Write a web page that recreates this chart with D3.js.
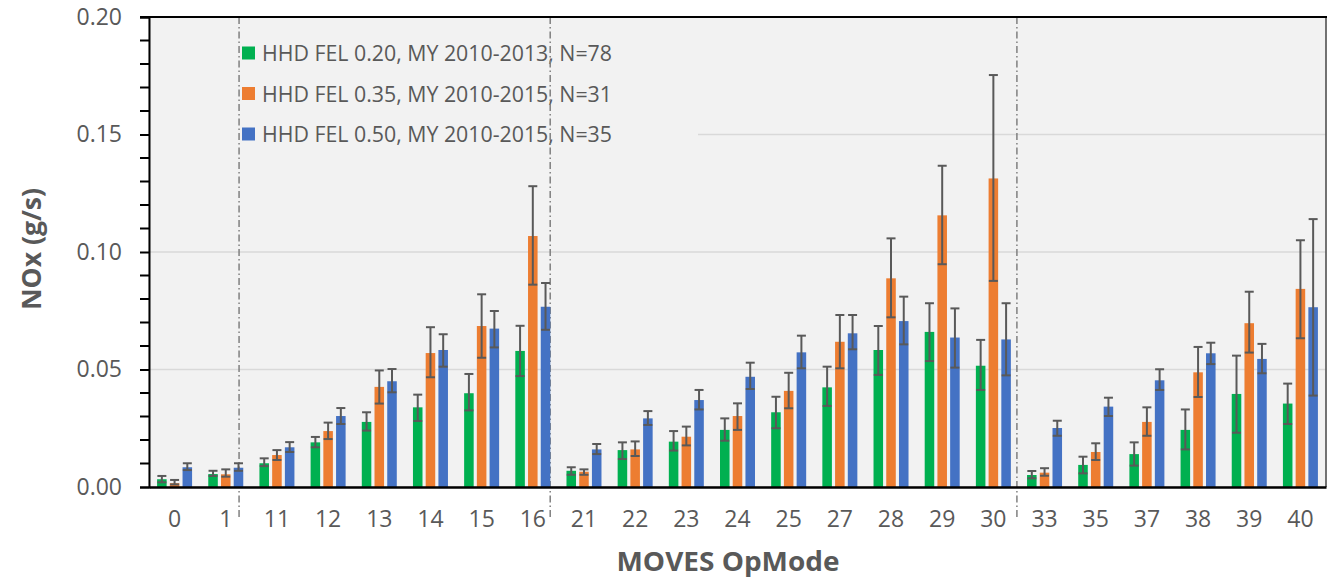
<!DOCTYPE html>
<html><head><meta charset="utf-8">
<script src="https://cdn.jsdelivr.net/npm/d3@7"></script>
<style>body{margin:0;background:#fff}svg{display:block}</style>
</head><body><svg id="c" width="1335" height="580"></svg>
<script>
const categories = ["0","1","11","12","13","14","15","16","21","22","23","24","25","27","28","29","30","33","35","37","38","39","40"];
const seriesNames = ["HHD FEL 0.20, MY 2010-2013, N=78","HHD FEL 0.35, MY 2010-2015, N=31","HHD FEL 0.50, MY 2010-2015, N=35"];
const seriesColors = ["#00b050","#ed7d31","#4472c4"];
const fel020 = [0.0033,0.0055,0.0101,0.0190,0.0277,0.0339,0.0399,0.0579,0.0069,0.0157,0.0193,0.0243,0.0318,0.0424,0.0583,0.0660,0.0516,0.0051,0.0094,0.0140,0.0243,0.0396,0.0355];
const fel020Lo = [0.0020,0.0047,0.0089,0.0169,0.0240,0.0281,0.0326,0.0472,0.0052,0.0119,0.0155,0.0197,0.0250,0.0345,0.0477,0.0536,0.0413,0.0037,0.0058,0.0091,0.0160,0.0231,0.0268];
const fel020Hi = [0.0047,0.0069,0.0122,0.0213,0.0318,0.0393,0.0481,0.0686,0.0084,0.0190,0.0238,0.0292,0.0384,0.0512,0.0685,0.0782,0.0626,0.0068,0.0129,0.0190,0.0330,0.0559,0.0440];
const fel035 = [0.0016,0.0054,0.0136,0.0238,0.0426,0.0570,0.0685,0.1068,0.0065,0.0160,0.0214,0.0302,0.0409,0.0618,0.0888,0.1156,0.1313,0.0061,0.0149,0.0277,0.0488,0.0697,0.0843];
const fel035Lo = [0.0011,0.0044,0.0115,0.0204,0.0355,0.0467,0.0550,0.0861,0.0052,0.0132,0.0177,0.0243,0.0335,0.0505,0.0722,0.0948,0.0877,0.0048,0.0115,0.0218,0.0383,0.0572,0.0633];
const fel035Hi = [0.0030,0.0075,0.0157,0.0274,0.0496,0.0680,0.0820,0.1280,0.0075,0.0194,0.0257,0.0356,0.0486,0.0732,0.1058,0.1367,0.1753,0.0080,0.0186,0.0339,0.0596,0.0831,0.1050];
const fel050 = [0.0084,0.0082,0.0169,0.0302,0.0450,0.0583,0.0674,0.0767,0.0160,0.0292,0.0370,0.0469,0.0573,0.0654,0.0706,0.0636,0.0628,0.0251,0.0342,0.0454,0.0569,0.0545,0.0765];
const fel050Lo = [0.0072,0.0069,0.0149,0.0268,0.0403,0.0512,0.0594,0.0669,0.0140,0.0264,0.0330,0.0417,0.0505,0.0586,0.0607,0.0508,0.0475,0.0218,0.0302,0.0413,0.0523,0.0484,0.0389];
const fel050Hi = [0.0101,0.0101,0.0191,0.0336,0.0502,0.0650,0.0749,0.0868,0.0183,0.0323,0.0413,0.0529,0.0644,0.0732,0.0810,0.0760,0.0782,0.0282,0.0380,0.0501,0.0614,0.0609,0.1140];
const yTicks = [0,0.05,0.10,0.15,0.20];
const yMinorTicks = [0.01,0.02,0.03,0.04,0.06,0.07,0.08,0.09,0.11,0.12,0.13,0.14,0.16,0.17,0.18,0.19];
const separators = [1.76, 7.84, 16.96]; // positions in category units
const yTitle = "NOx (g/s)";
const xTitle = "MOVES OpMode";

const series = [
  {name: seriesNames[0], color: seriesColors[0], v: fel020, lo: fel020Lo, hi: fel020Hi},
  {name: seriesNames[1], color: seriesColors[1], v: fel035, lo: fel035Lo, hi: fel035Hi},
  {name: seriesNames[2], color: seriesColors[2], v: fel050, lo: fel050Lo, hi: fel050Hi}
];

const FONT = "Open Sans, sans-serif";
const svg = d3.select("#c");
const L = 149, R = 1326, T = 17, B = 487;
const x = d3.scaleBand().domain(categories).range([L, R]).paddingInner(0).paddingOuter(0);
const xc = d3.scaleLinear().domain([0, categories.length]).range([L, R]);
const y = d3.scaleLinear().domain([0, 0.20]).range([B, T]);
const inner = d3.scaleBand().domain([0,1,2]).range([x.bandwidth()/2 - 17.5, x.bandwidth()/2 + 17.5]).paddingInner(0.25).paddingOuter(0);

// plot background
svg.append("rect").attr("x", L).attr("y", T).attr("width", R - L).attr("height", B - T)
  .attr("fill", "#f2f2f2").attr("stroke", "#d0d0d0").attr("stroke-width", 1);

// gridlines
svg.append("g").selectAll("line").data(yTicks.filter(d => d > 0 && d < 0.2)).join("line")
  .attr("x1", L).attr("x2", R).attr("y1", d => y(d)).attr("y2", d => y(d))
  .attr("stroke", "#d9d9d9").attr("stroke-width", 1.5);

// legend box (covers gridline)
const lg = svg.append("g");
lg.append("rect").attr("x", L + 1).attr("y", T + 12).attr("width", 548).attr("height", 133).attr("fill", "#f2f2f2");
series.forEach((s, i) => {
  const cy = 53 + i * 40.5;
  lg.append("rect").attr("x", 242).attr("y", cy - 6.5).attr("width", 13).attr("height", 13).attr("fill", s.color);
  lg.append("text").attr("x", 262).attr("y", cy + 8)
    .attr("font-family", FONT).attr("font-size", 22).attr("fill", "#595959")
    .attr("textLength", 350).attr("lengthAdjust", "spacingAndGlyphs")
    .text(s.name);
});

// separators
svg.append("g").selectAll("line").data(separators).join("line")
  .attr("x1", d => xc(d)).attr("x2", d => xc(d)).attr("y1", T).attr("y2", 517)
  .attr("stroke", "#808080").attr("stroke-width", 1.5).attr("stroke-dasharray", "7,3,1.5,3");

// bars
const groups = svg.append("g").selectAll("g").data(categories).join("g")
  .attr("transform", d => `translate(${x(d)},0)`);
series.forEach((s, si) => {
  groups.append("rect")
    .attr("x", inner(si)).attr("width", inner.bandwidth())
    .attr("y", (d, i) => y(s.v[i])).attr("height", (d, i) => B - y(s.v[i]))
    .attr("fill", s.color);
});
// error bars
series.forEach((s, si) => {
  const cx = inner(si) + inner.bandwidth() / 2;
  const eg = groups.append("g").attr("stroke", "#595959").attr("stroke-width", 2);
  eg.append("line").attr("x1", cx).attr("x2", cx).attr("y1", (d, i) => y(s.hi[i])).attr("y2", (d, i) => y(s.lo[i]));
  eg.append("line").attr("x1", cx - 4.5).attr("x2", cx + 4.5).attr("y1", (d, i) => y(s.hi[i])).attr("y2", (d, i) => y(s.hi[i]));
  eg.append("line").attr("x1", cx - 4.5).attr("x2", cx + 4.5).attr("y1", (d, i) => y(s.lo[i])).attr("y2", (d, i) => y(s.lo[i]));
});

// top & right border
svg.append("line").attr("x1", L - 9).attr("x2", R + 1).attr("y1", T).attr("y2", T).attr("stroke", "#000").attr("stroke-width", 2);
svg.append("line").attr("x1", R).attr("x2", R).attr("y1", T).attr("y2", B).attr("stroke", "#000").attr("stroke-width", 1);

// y axis
const yAxis = svg.append("g").attr("transform", `translate(${L},0)`)
  .call(d3.axisLeft(y).tickValues(yTicks).tickSize(9).tickFormat(d3.format(".2f")));
yAxis.select(".domain").attr("stroke", "#000").attr("stroke-width", 2);
yAxis.selectAll(".tick line").attr("stroke", "#000").attr("stroke-width", 2);
yAxis.selectAll(".tick text").attr("x", -27).attr("fill", "#595959")
  .attr("font-family", FONT).attr("font-size", 23);
svg.append("g").attr("transform", `translate(${L},0)`).selectAll("line").data(yMinorTicks).join("line")
  .attr("x1", -9).attr("x2", 0).attr("y1", d => y(d)).attr("y2", d => y(d))
  .attr("stroke", "#000").attr("stroke-width", 2);

// x axis
const xAxis = svg.append("g").attr("transform", `translate(0,${B})`)
  .call(d3.axisBottom(x).tickSize(0).tickPadding(24));
xAxis.select(".domain").attr("stroke", "#000").attr("stroke-width", 2.5);
xAxis.selectAll(".tick text").attr("fill", "#595959")
  .attr("font-family", FONT).attr("font-size", 23);

// titles
svg.append("text").attr("transform", "translate(41,249) rotate(-90)").attr("text-anchor", "middle")
  .attr("font-family", FONT).attr("font-weight", "bold").attr("font-size", 26)
  .attr("textLength", 122).attr("lengthAdjust", "spacingAndGlyphs")
  .attr("fill", "#595959").text(yTitle);
svg.append("text").attr("x", 728).attr("y", 571).attr("text-anchor", "middle")
  .attr("font-family", FONT).attr("font-weight", "bold").attr("font-size", 26)
  .attr("textLength", 223).attr("lengthAdjust", "spacingAndGlyphs")
  .attr("fill", "#595959").text(xTitle);
</script></body></html>
